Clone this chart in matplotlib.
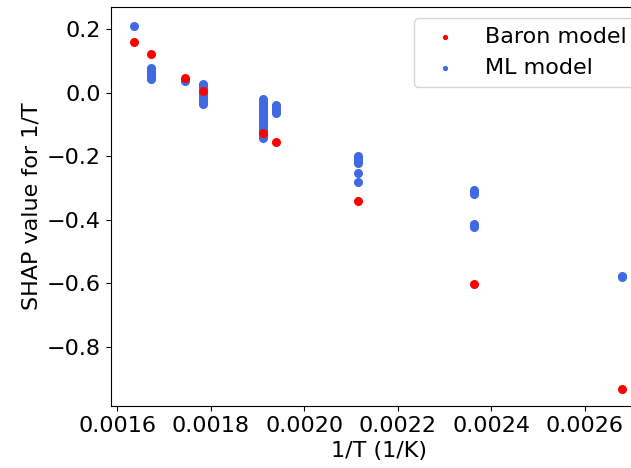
import matplotlib
matplotlib.use("Agg")
import matplotlib.pyplot as plt

# 1/T de cada temperatura (1/K)
inv_T = [0.001636, 0.001672, 0.001745, 0.001783, 0.001912, 0.001939,
         0.002115, 0.002363, 0.002680]

# Baron model: un valor SHAP por temperatura
baron_shap = [0.159, 0.123, 0.045, 0.006, -0.128, -0.156, -0.341, -0.602, -0.933]

# ML model: varios valores SHAP por temperatura
ml_shap = [
    [0.211],
    [0.079, 0.075, 0.071, 0.067, 0.063, 0.059, 0.055, 0.051, 0.047, 0.043],
    [0.037, 0.040],
    [0.027, 0.021, 0.015, 0.009, 0.003, -0.004, -0.011, -0.018, -0.025, -0.031, -0.036],
    [-0.021, -0.028, -0.035, -0.042, -0.049, -0.056, -0.063, -0.070, -0.077, -0.084,
     -0.091, -0.098, -0.105, -0.112, -0.119, -0.126, -0.133, -0.139, -0.144],
    [-0.040, -0.045, -0.050, -0.058, -0.062, -0.065],
    [-0.200, -0.205, -0.210, -0.215, -0.222, -0.252, -0.282],
    [-0.306, -0.312, -0.319, -0.413, -0.418, -0.424],
    [-0.576, -0.582],
]

ml_x = [x for x, vals in zip(inv_T, ml_shap) for _ in vals]
ml_y = [v for vals in ml_shap for v in vals]

fig = plt.figure(figsize=(6.31, 4.68), dpi=100)
ax = fig.add_axes([110.7 / 631, 62 / 468, (647 - 110.7) / 631, (406 - 7) / 468])

h_ml = ax.scatter(ml_x, ml_y, s=30, color="royalblue", label="ML model")
h_baron = ax.scatter(inv_T, baron_shap, s=30, color="red", label="Baron model")

ax.set_xlim(0.001586, 0.002733)
ax.set_ylim(-0.987, 0.27)
ax.set_xticks([0.0016, 0.0018, 0.0020, 0.0022, 0.0024, 0.0026])
ax.tick_params(labelsize=16)
ax.set_xlabel("1/T (1/K)", fontsize=16)
ax.set_ylabel("SHAP value for 1/T", fontsize=16)
ax.legend(handles=[h_baron, h_ml], loc="upper right", fontsize=16, markerscale=0.5)

fig.savefig("out.png", dpi=100)
